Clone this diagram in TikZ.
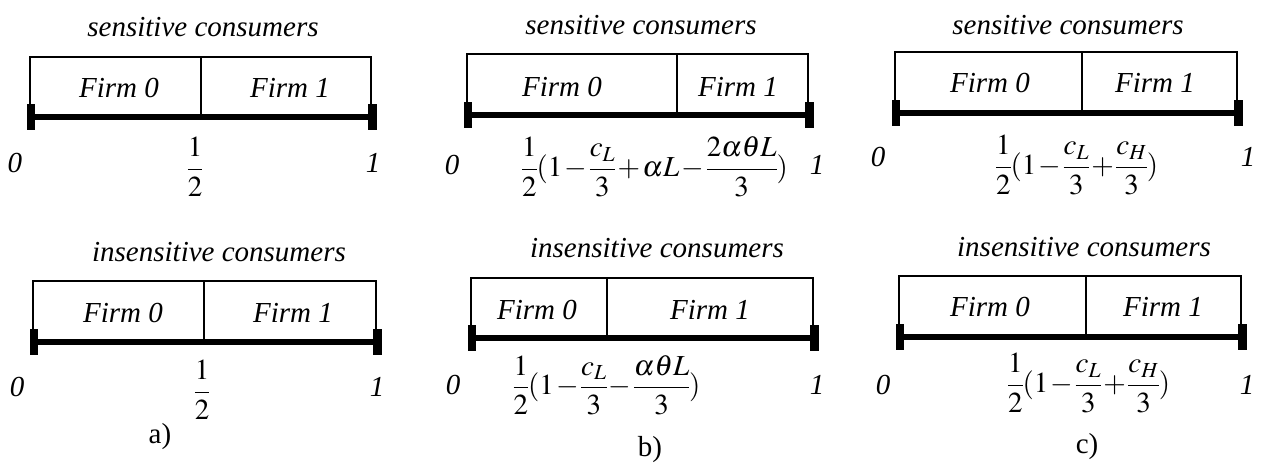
\documentclass[tikz,border=0pt]{standalone}
\usepackage{mathptmx}
\usepackage{fontspec}
\setmainfont{Liberation Serif}
\newcommand{\tightmath}{\medmuskip=1.5mu\relax\thinmuskip=1mu\relax\nulldelimiterspace=0pt\relax}
\newcommand{\fm}[1]{\tightmath$\displaystyle #1$}
\tikzset{
  x=1pt, y=-1pt,
  boxline/.style={line width=1.3pt},
  barline/.style={line width=6.8pt},
  lbl/.style={font=\fontsize{29}{34}\selectfont\itshape, inner sep=0pt},
  mth/.style={font=\fontsize{29}{34}\selectfont, inner sep=0pt},
  sublabel/.style={font=\fontsize{29}{34}\selectfont, inner sep=0pt}
}
\newcommand{\segpanel}[6]{% name, L, D, R, T, B
  \coordinate (#1lt) at (#2,#5);
  \coordinate (#1rt) at (#4,#5);
  \coordinate (#1lb) at (#2,#6);
  \coordinate (#1rb) at (#4,#6);
  \coordinate (#1dt) at (#3,#5);
  \coordinate (#1db) at (#3,#6);
  \draw[boxline] (#1lb) -- (#1lt) -- (#1rt) -- (#1rb);
  \draw[boxline] (#1dt) -- (#1db);
  \draw[barline] (#1lb) -- (#1rb);
  \fill ([xshift=-3pt,yshift=-13pt]#1lb) rectangle ([xshift=5pt,yshift=13pt]#1lb);
  \fill ([xshift=-3pt,yshift=-13pt]#1rb) rectangle ([xshift=5.5pt,yshift=13pt]#1rb);
}
\begin{document}
\begin{tikzpicture}
\useasboundingbox (0,0) rectangle (1265,466);

% ---- panel a ----
\segpanel{at}{30}{201}{371}{57}{117}
\node[lbl] (atT) at (203,27) {sensitive consumers};
\node[lbl] (atF0) at (119,88) {Firm 0};
\node[lbl] (atF1) at (290,88) {Firm 1};
\node[lbl] (at0) at (15,163) {0};
\node[lbl] (at1) at (373,163) {1};
\node[mth] (atm) at (195,167) {\fm{\frac{1}{2}}};

\segpanel{ab}{33}{204}{376}{281}{342}
\node[lbl] (abT) at (219,252) {insensitive consumers};
\node[lbl] (abF0) at (123,313) {Firm 0};
\node[lbl] (abF1) at (293,313) {Firm 1};
\node[lbl] (ab0) at (17,387) {0};
\node[lbl] (ab1) at (377,387) {1};
\node[mth] (abm) at (202,390) {\fm{\frac{1}{2}}};
\node[sublabel] (capa) at (160,437) {a)};

% ---- panel b ----
\segpanel{bt}{467}{677}{808}{54}{115}
\node[lbl] (btT) at (641,25) {sensitive consumers};
\node[lbl] (btF0) at (562,87) {Firm 0};
\node[lbl] (btF1) at (738,87) {Firm 1};
\node[lbl] (bt0) at (452,165) {0};
\node[lbl] (bt1) at (817,165) {1};
\node[mth] (btm) at (655,167) {\fm{\frac{1}{2}(1-\frac{c_L}{3}+\alpha L-\frac{2\alpha\theta L}{3})}};

\segpanel{bb}{471}{607}{813}{278}{338}
\node[lbl] (bbT) at (657,248) {insensitive consumers};
\node[lbl] (bbF0) at (537,310) {Firm 0};
\node[lbl] (bbF1) at (710,310) {Firm 1};
\node[lbl] (bb0) at (453,385) {0};
\node[lbl] (bb1) at (817,385) {1};
\node[mth] (bbm) at (607,385) {\fm{\frac{1}{2}(1-\frac{c_L}{3}-\frac{\alpha\theta L}{3})}};
\node[sublabel] (capb) at (650,450) {b)};

% ---- panel c ----
\segpanel{ct}{895}{1082}{1237}{52}{113}
\node[lbl] (ctT) at (1068,25) {sensitive consumers};
\node[lbl] (ctF0) at (990,83) {Firm 0};
\node[lbl] (ctF1) at (1155,83) {Firm 1};
\node[lbl] (ct0) at (878,157) {0};
\node[lbl] (ct1) at (1248,157) {1};
\node[mth] (ctm) at (1077,165) {\fm{\frac{1}{2}(1-\frac{c_L}{3}+\frac{c_H}{3})}};

\segpanel{cb}{899}{1086}{1241}{276}{337}
\node[lbl] (cbT) at (1084,247) {insensitive consumers};
\node[lbl] (cbF0) at (990,307) {Firm 0};
\node[lbl] (cbF1) at (1163,307) {Firm 1};
\node[lbl] (cb0) at (883,385) {0};
\node[lbl] (cb1) at (1247,385) {1};
\node[mth] (cbm) at (1089,383) {\fm{\frac{1}{2}(1-\frac{c_L}{3}+\frac{c_H}{3})}};
\node[sublabel] (capc) at (1087,447) {c)};
\end{tikzpicture}
\end{document}
